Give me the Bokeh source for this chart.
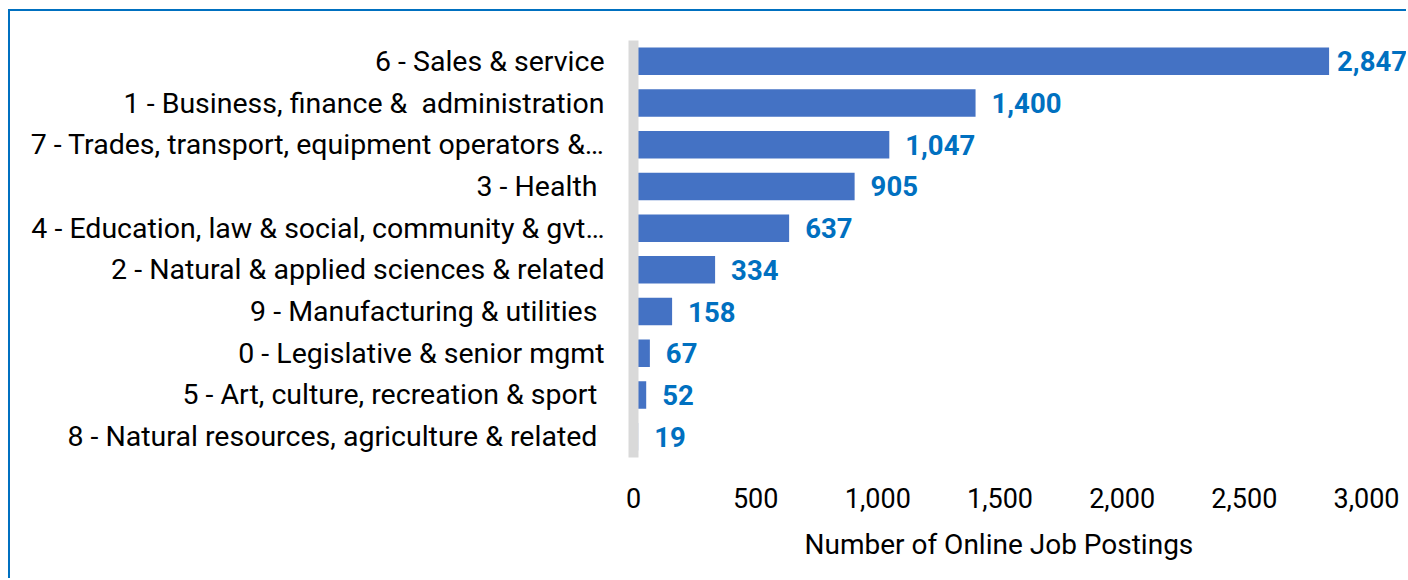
from bokeh.plotting import figure
from bokeh.models import ColumnDataSource, FixedTicker, NumeralTickFormatter, Range1d, Title
from bokeh.core.properties import value
from bokeh.embed import file_html
from bokeh.resources import INLINE

NBSP = "\u00a0"
categories = [
    "6 - Sales & service",
    "1 - Business, finance &" + NBSP + " administration",
    "7 - Trades, transport, equipment operators &\u2026",
    "3 - Health" + NBSP,
    "4 - Education, law & social, community & gvt\u2026",
    "2 - Natural & applied sciences & related",
    "9 - Manufacturing & utilities" + NBSP,
    "0 - Legislative & senior mgmt",
    "5 - Art, culture, recreation & sport" + NBSP,
    "8 - Natural resources, agriculture & related" + NBSP,
]
postings = [2847, 1400, 1047, 905, 637, 334, 158, 67, 52, 19]
x_ticks = [0, 500, 1000, 1500, 2000, 2500, 3000]
x_title = "Number of Online Job Postings"

labels = [f"{v:,}" for v in postings]
offsets = [8 if v == max(postings) else 16 for v in postings]

src = ColumnDataSource(dict(cat=categories, val=postings, lab=labels, off=offsets))

FONT = "Roboto"
p = figure(
    width=1398, height=569,
    y_range=list(reversed(categories)),
    x_range=Range1d(0, 3172),
    output_backend="svg", toolbar_location=None,
    min_border_left=623, min_border_right=0, min_border_top=29, min_border_bottom=123,
)
p.styles = {
    "margin-left": "8px", "margin-top": "9px",
    "border-left": "2px solid #0070C0", "border-top": "2px solid #0070C0",
}
p.y_range.range_padding = 0
p.outline_line_color = None
p.xgrid.grid_line_color = None
p.ygrid.grid_line_color = None

p.hbar(y="cat", right="val", left=0, height=0.66, source=src,
       fill_color="#4472C4", line_color=None)
p.text(x="val", y="cat", text="lab", x_offset="off", source=src,
       text_font=value(FONT), text_font_style="bold", text_font_size="27.5px",
       text_color="#0070C0", text_baseline="middle", text_align="left")

xa = p.xaxis[0]
xa.ticker = FixedTicker(ticks=x_ticks)
xa.formatter = NumeralTickFormatter(format="0,0")
xa.axis_line_color = None
xa.major_tick_line_color = None
xa.minor_tick_line_color = None
xa.major_label_text_font = FONT
xa.major_label_text_font_size = "27px"
xa.major_label_text_color = "#000000"
xa.major_label_standoff = 24

# axis title centred under the 0-3,000 tick span (as in the reference)
p.add_layout(Title(text=x_title, align="left", offset=171, vertical_align="top",
                   standoff=34, text_font=FONT, text_font_size="28px",
                   text_font_style="normal", text_color="#000000"), "below")

ya = p.yaxis[0]
ya.axis_line_color = "#D9D9D9"
ya.axis_line_width = 10
ya.major_tick_line_color = None
ya.minor_tick_line_color = None
ya.major_label_text_font = FONT
ya.major_label_text_font_size = "28.5px"
ya.major_label_text_color = "#000000"
ya.major_label_standoff = 23

open("out.html", "w").write(file_html(p, INLINE))
